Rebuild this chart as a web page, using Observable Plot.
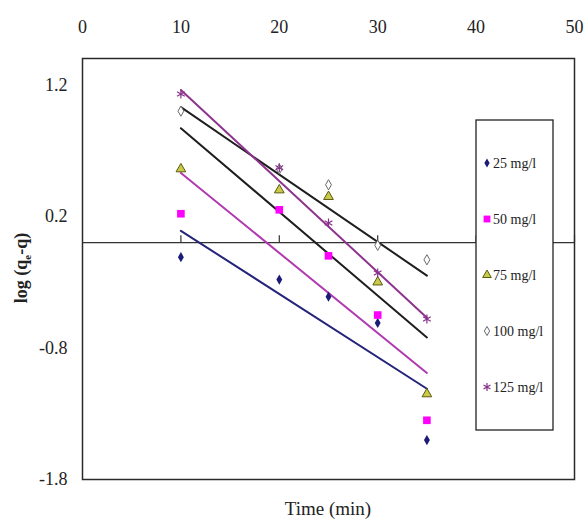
<!DOCTYPE html>
<html><head><meta charset="utf-8">
<script src="https://cdn.jsdelivr.net/npm/d3@7"></script>
<script src="https://cdn.jsdelivr.net/npm/@observablehq/plot@0.6"></script>
<style>body{margin:0;background:#fff} #chart{width:584px;height:519px}</style>
</head><body><div id="chart"></div>
<script>
// ---- data ----
const times = [10, 20, 25, 30, 35];
const seriesNames = ["25 mg/l", "50 mg/l", "75 mg/l", "100 mg/l", "125 mg/l"];
const c25  = [-0.11, -0.28, -0.41, -0.61, -1.50];
const c50  = [0.22, 0.25, -0.10, -0.55, -1.35];
const c75  = [0.56, 0.40, 0.35, -0.30, -1.15];
const c100 = [1.00, 0.56, 0.44, -0.02, -0.13];
const c125 = [1.13, 0.57, 0.15, -0.23, -0.58];
// linear fit lines (start/end at fitX)
const fitX   = [10, 35];
const fit25  = [0.09, -1.11];
const fit50  = [0.53, -0.99];
const fit75  = [0.87, -0.72];
const fit100 = [1.03, -0.25];
const fit125 = [1.16, -0.57];
const xTicks = [0, 10, 20, 30, 40, 50];
const yTicks = [1.2, 0.2, -0.8, -1.8];
const xTitle = "Time (min)";

// ---- build tables ----
const seriesValues = [c25, c50, c75, c100, c125];
const seriesFits = [fit25, fit50, fit75, fit100, fit125];
const points = [], fits = [];
seriesNames.forEach((s, i) => {
  times.forEach((t, j) => points.push({series: s, t, v: seriesValues[i][j]}));
  fitX.forEach((t, j) => fits.push({series: s, t, v: seriesFits[i][j]}));
});

const markStyle = {
  "25 mg/l":  {symbol: "diamond",  fill: "#1c1c78", stroke: "none", r: 3.1, strokeWidth: 1},
  "50 mg/l":  {symbol: "square",   fill: "#ff00ff", stroke: "none", r: 4.3, strokeWidth: 1},
  "75 mg/l":  {symbol: "triangle", fill: "#c9c94a", stroke: "#5a5a10", r: 3.6, strokeWidth: 1},
  "100 mg/l": {symbol: "diamond",  fill: "#ffffff", stroke: "#6a6a6a", r: 3.1, strokeWidth: 1},
  "125 mg/l": {symbol: "asterisk", fill: "none",    stroke: "#86308a", r: 4.2, strokeWidth: 1.2}
};
const lineColor = {
  "25 mg/l": "#24247a", "50 mg/l": "#b03ab0", "75 mg/l": "#1e1e1e",
  "100 mg/l": "#1e1e1e", "125 mg/l": "#8e348e"
};

const marks = [
  Plot.ruleY([0], {stroke: "#333", strokeWidth: 1.2}),
  Plot.ruleX(xTicks.filter(t => t > 0), {x: d => d, y1: 0, y2: 0, insetTop: -7, stroke: "#333", strokeWidth: 1.2}),
  Plot.axisX({anchor: "top", ticks: xTicks, tickSize: 0, tickPadding: 26, label: null, fontSize: 18}),
  Plot.axisY({anchor: "left", ticks: yTicks, tickSize: 0, tickPadding: 15, label: null, fontSize: 18, tickFormat: d => d.toFixed(1)}),
];
seriesNames.forEach(s => {
  marks.push(Plot.line(fits.filter(d => d.series === s), {x: "t", y: "v", stroke: lineColor[s], strokeWidth: 2}));
});
seriesNames.forEach(s => {
  const st = markStyle[s];
  marks.push(Plot.dot(points.filter(d => d.series === s), {x: "t", y: "v", symbol: st.symbol, fill: st.fill, stroke: st.stroke, r: st.r, strokeWidth: st.strokeWidth}));
});
marks.push(Plot.frame({stroke: "#2a2a2a", strokeWidth: 1.5}));

const chart = Plot.plot({
  width: 584, height: 519,
  marginLeft: 82, marginRight: 10, marginTop: 58, marginBottom: 40,
  x: {domain: [0, 50]},
  y: {domain: [-1.8, 1.4]},
  style: {fontFamily: "'Liberation Serif', serif", fontSize: "18px", color: "#222", background: "#fff"},
  marks
});
document.getElementById("chart").appendChild(chart);

// ---- titles & legend ----
const svg = d3.select(chart);
const font = "'Liberation Serif', serif";
svg.append("text").attr("x", 328).attr("y", 515).attr("text-anchor", "middle")
  .attr("font-family", font).attr("font-size", 19).attr("fill", "#222").text(xTitle);
const yt = svg.append("text").attr("transform", "translate(27,268) rotate(-90)")
  .attr("text-anchor", "middle").attr("font-family", font).attr("font-size", 18)
  .attr("font-weight", "bold").attr("fill", "#222");
yt.append("tspan").text("log (q");
yt.append("tspan").attr("font-size", 11).attr("dy", 4).text("e");
yt.append("tspan").attr("dy", -4).text("-q)");

const lg = svg.append("g");
lg.append("rect").attr("x", 476).attr("y", 120).attr("width", 77).attr("height", 310)
  .attr("fill", "#fff").attr("stroke", "#222").attr("stroke-width", 1.3);
const symMap = {diamond: d3.symbolDiamond, square: d3.symbolSquare, triangle: d3.symbolTriangle, asterisk: d3.symbolAsterisk};
seriesNames.forEach((s, i) => {
  const yy = 163 + i * 56;
  const st = markStyle[s];
  lg.append("path").attr("transform", `translate(487,${yy})`)
    .attr("d", d3.symbol(symMap[st.symbol], st.r * st.r * Math.PI * 0.8)())
    .attr("fill", st.fill).attr("stroke", st.stroke).attr("stroke-width", st.strokeWidth);
  lg.append("text").attr("x", 493).attr("y", yy + 5).attr("text-anchor", "start")
    .attr("font-family", font).attr("font-size", 14).attr("fill", "#222").text(s);
});
</script></body></html>
